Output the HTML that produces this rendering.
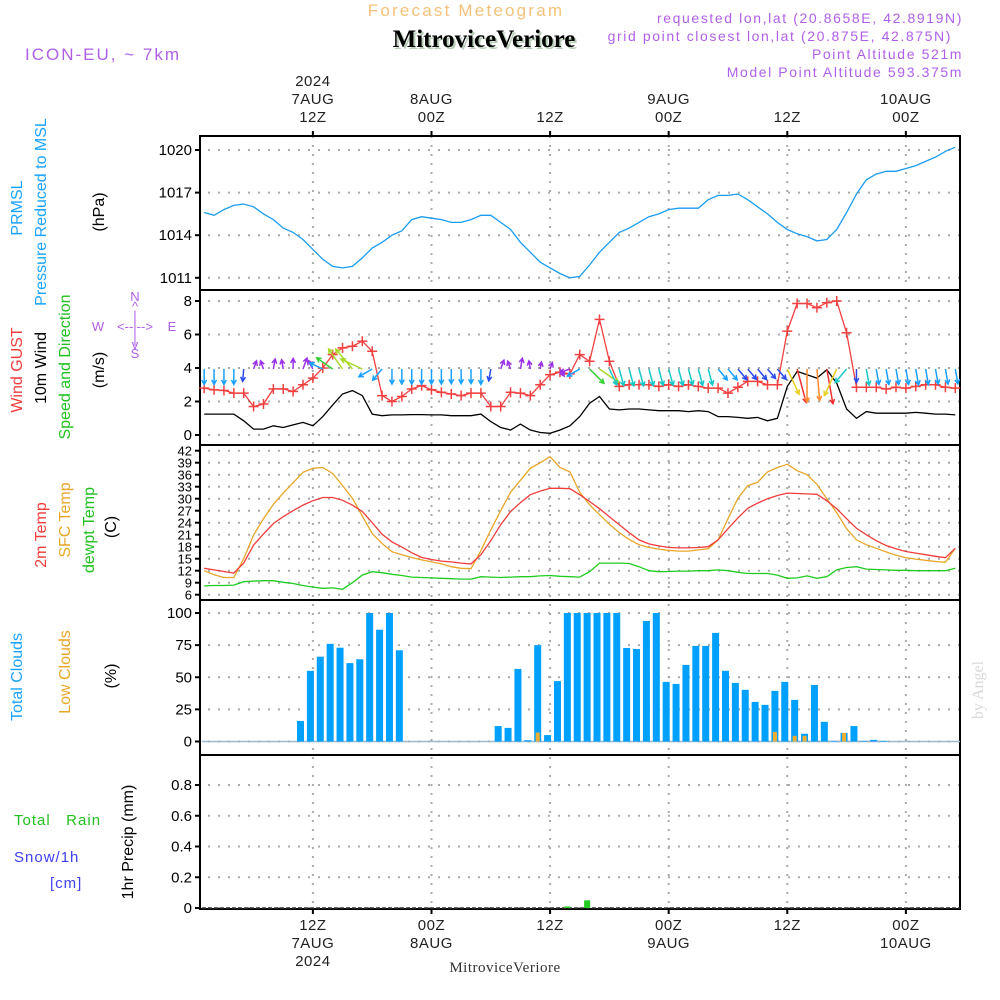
<!DOCTYPE html>
<html>
<head>
<meta charset="utf-8">
<style>
  html,body{margin:0;padding:0;background:#fff;}
  svg{display:block;font-family:"Liberation Sans",sans-serif;}
</style>
</head>
<body>
<svg id="chart" width="1000" height="1000" viewBox="0 0 1000 1000" xmlns="http://www.w3.org/2000/svg"></svg>
<script>
// ---------- DATA (hourly, hour index from 7AUG 00Z) ----------
const hours = [1,2,3,4,5,6,7,8,9,10,11,12,13,14,15,16,17,18,19,20,21,22,23,24,25,26,27,28,29,30,31,32,33,34,35,36,37,38,39,40,41,42,43,44,45,46,47,48,49,50,51,52,53,54,55,56,57,58,59,60,61,62,63,64,65,66,67,68,69,70,71,72,73,74,75,76,77];
const pressure = [1015.6,1015.4,1015.8,1016.1,1016.2,1016.0,1015.5,1015.1,1014.5,1014.2,1013.7,1013.0,1012.3,1011.8,1011.7,1011.8,1012.4,1013.1,1013.5,1014.0,1014.3,1015.1,1015.3,1015.2,1015.1,1014.9,1014.9,1015.1,1015.4,1015.4,1014.9,1014.4,1013.5,1012.8,1012.1,1011.7,1011.3,1011.0,1011.1,1011.9,1012.8,1013.5,1014.2,1014.5,1014.9,1015.3,1015.5,1015.8,1015.9,1015.9,1015.9,1016.5,1016.8,1016.8,1016.9,1016.5,1016.0,1015.5,1014.9,1014.4,1014.1,1013.9,1013.6,1013.7,1014.4,1015.6,1016.9,1017.9,1018.3,1018.5,1018.5,1018.7,1018.9,1019.2,1019.5,1019.9,1020.2];
const gust = [2.8,2.7,2.66,2.5,2.5,1.7,1.85,2.75,2.75,2.6,3.0,3.4,4.0,4.8,5.2,5.3,5.6,5.0,2.35,2.0,2.3,2.75,2.95,2.7,2.55,2.45,2.35,2.5,2.5,1.7,1.7,2.55,2.5,2.35,3.0,3.6,3.75,3.65,4.8,4.4,6.9,4.4,2.9,3.0,3.0,3.0,2.9,3.0,2.9,3.0,2.9,2.8,2.8,2.5,2.85,3.2,3.2,3.0,3.0,6.2,7.85,7.85,7.6,7.9,8.0,6.1,2.85,2.85,2.85,2.75,2.85,2.8,2.9,3.0,3.0,2.85,2.8];
const wind10 = [1.25,1.25,1.25,1.25,0.85,0.35,0.35,0.55,0.45,0.6,0.75,0.55,1.1,1.8,2.45,2.65,2.35,1.25,1.15,1.2,1.2,1.22,1.22,1.2,1.2,1.15,1.15,1.15,1.25,0.8,0.45,0.3,0.65,0.3,0.15,0.1,0.3,0.55,1.1,1.9,2.3,1.55,1.5,1.55,1.55,1.5,1.45,1.45,1.45,1.4,1.45,1.4,1.1,1.1,1.05,1.0,1.05,0.85,1.0,2.9,3.8,3.6,3.4,3.9,3.1,1.55,1.0,1.4,1.3,1.3,1.3,1.3,1.35,1.3,1.25,1.25,1.2];
const windDir = [0,0,0,0,5,200,160,190,170,180,200,150,115,125,145,140,115,60,40,0,0,0,0,0,0,0,0,0,0,10,200,160,190,170,190,200,330,70,60,315,305,335,345,345,345,345,345,345,345,345,345,345,320,320,320,320,320,320,320,335,345,0,355,350,25,40,0,350,350,350,350,350,350,350,350,350,350];
const temp2m = [12.6,12.2,11.8,11.4,13.9,18.4,21.2,23.8,25.5,27.0,28.4,29.5,30.3,30.3,29.6,28.4,26.8,24.0,21.1,19.2,17.9,16.5,15.3,14.8,14.4,14.2,13.9,13.7,16.0,19.5,23.5,26.8,29.0,31.0,31.9,32.6,32.6,32.5,31.0,29.3,27.5,25.5,23.5,21.5,19.7,18.7,18.2,17.8,17.7,17.7,17.8,18.0,19.7,22.5,25.2,27.6,28.9,30.0,30.8,31.4,31.3,31.2,31.1,29.5,27.5,25.0,22.6,21.0,19.5,18.3,17.5,16.8,16.4,16.0,15.6,15.25,17.6];
const tempSfc = [12.0,11.0,10.3,10.3,15.0,20.9,25.0,28.6,31.4,34.0,36.6,37.6,37.8,36.3,33.3,30.1,25.7,21.3,18.8,16.75,16.0,15.3,14.7,14.2,13.7,13.0,12.6,12.5,17.0,22.2,27.0,31.6,34.6,37.6,39.0,40.5,37.8,36.7,31.6,28.5,26.0,23.6,21.5,19.8,18.5,17.8,17.4,17.1,16.9,16.9,17.2,17.5,19.7,25.0,30.1,33.25,34.1,36.7,37.8,38.6,37.0,36.0,33.6,30.0,26.5,22.5,19.7,18.5,17.6,16.7,15.9,15.25,14.9,14.6,14.3,14.1,17.6];
const dewpt = [8.2,8.3,8.3,8.4,9.25,9.4,9.5,9.5,9.1,8.8,8.3,7.9,7.6,7.7,7.35,9.0,10.9,11.75,11.5,11.1,10.8,10.4,10.3,10.2,10.1,10.0,9.9,9.9,10.5,10.4,10.3,10.4,10.5,10.5,10.7,10.8,10.6,10.5,10.4,11.75,13.9,13.9,13.9,13.8,13.0,12.0,11.75,11.8,11.9,11.9,12.0,12.0,12.2,12.0,11.6,11.3,11.3,11.3,10.9,10.1,10.2,10.7,10.1,10.5,12.2,12.8,13.0,12.4,12.3,12.2,12.1,12.1,12.0,12.0,12.0,12.0,12.6];
const totalClouds = [0,0,0,0,0,0,0,0,0,0,16,55,66,76,73,61,64,100,87,100,71,0,0,0,0,0,0,0,0,0,12,10.6,56.5,1,75,5,47,100,100,100,100,100,100,72.8,72,93.8,100,46.4,44.8,59.6,74.4,74.4,84.5,55,45.6,40.2,30.8,28.5,39.4,46.4,32.4,6,44,15.3,0.5,6.7,12,0.5,1.3,0.5,0,0,0,0,0,0,0];
const lowCloudHours = [35,59,61,62,66];
const lowCloudValues = [7,7.5,4.4,4.4,6.7];
const rainHours = [38,40];
const rainValues = [0.01,0.05];
const pressTicks = [1011,1014,1017,1020];
const windTicks = [0,2,4,6,8];
const tempTicks = [6,9,12,15,18,21,24,27,30,33,36,39,42];
const cloudTicks = [0,25,50,75,100];
const rainTicks = [0,0.2,0.4,0.6,0.8];
const timeTickHours = [12,24,36,48,60,72];
const topTickLabels = [["2024","7AUG","12Z"],["","8AUG","00Z"],["","","12Z"],["","9AUG","00Z"],["","","12Z"],["","10AUG","00Z"]];
const bottomTickLabels = [["12Z","7AUG","2024"],["00Z","8AUG",""],["12Z","",""],["00Z","9AUG",""],["12Z","",""],["00Z","10AUG",""]];

// ---------- GEOMETRY ----------
const svg = document.getElementById('chart');
const NS = 'http://www.w3.org/2000/svg';
const X0 = 200, X1 = 960;
const xAt = h => 194.3 + 9.883 * h;
const panels = [
  {top:136, bot:290}, {top:290, bot:445}, {top:445, bot:600}, {top:600, bot:755}, {top:755, bot:909}
];
const yP = v => 150 + (1020 - v) * 14.2;
const yW = v => 435 - v * 16.75;
const yT = v => 594.7 - (v - 6) * 4.0;
const yC = v => 741.5 - v * 1.285;
const yR = v => 908 - v * 153.75;

function mk(tag, attrs, parent) {
  const e = document.createElementNS(NS, tag);
  for (const k in attrs) e.setAttribute(k, attrs[k]);
  (parent || svg).appendChild(e);
  return e;
}
function txt(s, attrs, parent) {
  const e = mk('text', attrs, parent);
  e.textContent = s;
  return e;
}
function vtxt(s, x, y, color, size, parent) {
  return txt(s, {x:0, y:0, transform:`translate(${x},${y}) rotate(-90)`, 'text-anchor':'middle', fill:color, 'font-size':size}, parent);
}

// ---------- GRIDS ----------
const grid = mk('g', {stroke:'#aaaaaa', 'stroke-width':2, 'stroke-dasharray':'2,8'});


function hgrid(yv) { mk('line', {x1:X0+8, x2:X1, y1:yv, y2:yv}, grid); }
pressTicks.forEach(v => hgrid(yP(v)));
windTicks.forEach(v => hgrid(yW(v)));
tempTicks.forEach(v => hgrid(yT(v)));
cloudTicks.forEach(v => hgrid(yC(v)));
rainTicks.forEach(v => hgrid(yR(v)));
const vgrid = mk('g', {stroke:'#aaaaaa', 'stroke-width':2, 'stroke-dasharray':'2,7'});


timeTickHours.forEach(h => mk('line', {x1:xAt(h), x2:xAt(h), y1:136, y2:909}, vgrid));

// ---------- PANEL FRAMES ----------
const frames = mk('g', {fill:'none', stroke:'#000', 'stroke-width':2});


mk('rect', {x:X0, y:136, width:X1-X0, height:773}, frames);
panels.forEach(p => mk('line', {x1:X0, x2:X1, y1:p.bot, y2:p.bot}, frames));
timeTickHours.forEach(h => {
  mk('line', {x1:xAt(h), x2:xAt(h), y1:131, y2:136}, frames);
  mk('line', {x1:xAt(h), x2:xAt(h), y1:909, y2:914}, frames);
});

// ---------- Y TICKS ----------
function yAxis(ticks, fn, name, fmt, size) {
  const g = mk('g', {});
  
  
  ticks.forEach(v => {
    mk('line', {x1:X0-5, x2:X0, y1:fn(v), y2:fn(v), stroke:'#000', 'stroke-width':2}, g);
    txt(fmt(v), {x:X0-8, y:fn(v)+5, 'text-anchor':'end', 'font-size':size, fill:'#000'}, g);
  });
}
yAxis(pressTicks, yP, 'pressure-y-axis', v => String(v), 15);
yAxis(windTicks, yW, 'wind-y-axis', v => String(v), 15);
yAxis(tempTicks, yT, 'temp-y-axis', v => String(v), 13);
yAxis(cloudTicks, yC, 'cloud-y-axis', v => String(v), 15);
yAxis(rainTicks, yR, 'rain-y-axis', v => v === 0 ? '0' : v.toFixed(1), 15);

// ---------- TIME LABELS ----------
const tl = mk('g', {'font-size':15, fill:'#222', 'text-anchor':'middle', 'letter-spacing':'0.5'});


timeTickHours.forEach((h, i) => {
  const top = topTickLabels[i];
  [86, 104, 122].forEach((yy, j) => { if (top[j]) txt(top[j], {x:xAt(h), y:yy}, tl); });
  const bot = bottomTickLabels[i];
  [930, 948, 966].forEach((yy, j) => { if (bot[j]) txt(bot[j], {x:xAt(h), y:yy}, tl); });
});

// ---------- PRESSURE ----------
const pPts = hours.map((h, i) => `${xAt(h).toFixed(1)},${yP(pressure[i]).toFixed(1)}`).join(' ');
const pLine = mk('polyline', {points:pPts, fill:'none', stroke:'#1a9cf0', 'stroke-width':1.3});



// ---------- WIND ----------
const wLine = mk('polyline', {points:hours.map((h, i) => `${xAt(h).toFixed(1)},${yW(wind10[i]).toFixed(1)}`).join(' '), fill:'none', stroke:'#000', 'stroke-width':1.3});


const gLine = mk('polyline', {points:hours.map((h, i) => `${xAt(h).toFixed(1)},${yW(gust[i]).toFixed(1)}`).join(' '), fill:'none', stroke:'#f04040', 'stroke-width':1.3});


const gMarks = mk('g', {stroke:'#f04040', 'stroke-width':1.5});


hours.forEach((h, i) => {
  const x = xAt(h), y = yW(gust[i]);
  mk('line', {x1:x-5, x2:x+5, y1:y, y2:y}, gMarks);
  mk('line', {x1:x, x2:x, y1:y-5, y2:y+5}, gMarks);
});
function windColor(s) {
  if (s < 0.8) return '#9a30e8';
  if (s < 1.1) return '#2a4af0';
  if (s < 1.4) return '#1aa0ff';
  if (s < 1.7) return '#18c8c8';
  if (s < 2.1) return '#30d030';
  if (s < 2.7) return '#a8d828';
  if (s < 3.2) return '#e8d020';
  if (s < 3.7) return '#ff8a30';
  return '#f03030';
}
const arrows = mk('g', {'stroke-width':1.5, fill:'none'});


hours.forEach((h, i) => {
  const s = wind10[i];
  const L = 6 + 7.5 * s;
  const th = (windDir[i] + 180) * Math.PI / 180;
  const dx = Math.sin(th), dy = -Math.cos(th);
  const x0 = xAt(h), y0 = 369;
  const x1 = x0 + dx * L, y1 = y0 + dy * L;
  const c = windColor(s);
  const hl = 5, a = 0.5;
  const bx = -dx, by = -dy;
  const lx = x1 + hl * (bx * Math.cos(a) - by * Math.sin(a));
  const ly = y1 + hl * (bx * Math.sin(a) + by * Math.cos(a));
  const rx = x1 + hl * (bx * Math.cos(-a) - by * Math.sin(-a));
  const ry = y1 + hl * (bx * Math.sin(-a) + by * Math.cos(-a));
  mk('path', {d:`M${x0},${y0} L${x1},${y1} M${lx},${ly} L${x1},${y1} L${rx},${ry}`, stroke:c}, arrows);
});

// ---------- TEMPERATURE ----------
function tline(arr, color) {
  return mk('polyline', {points:hours.map((h, i) => `${xAt(h).toFixed(1)},${yT(arr[i]).toFixed(1)}`).join(' '), fill:'none', stroke:color, 'stroke-width':1.3});
}
const sfcL = tline(tempSfc, '#e8a628');


const t2L = tline(temp2m, '#f03c3c');


const dwL = tline(dewpt, '#20cc20');



// ---------- CLOUDS ----------
const cbase = mk('line', {x1:X0+2, x2:X1, y1:741.5, y2:741.5, stroke:'#9ab8d0', 'stroke-width':1.5});


const cb = mk('g', {fill:'#00a0ff'});


hours.forEach((h, i) => {
  const v = totalClouds[i];
  if (v <= 0) return;
  const y = yC(v);
  const r = mk('rect', {x:xAt(h)-2.5-3.5, y:y, width:7, height:741.5-y}, cb);
  
  
});
const lb = mk('g', {fill:'#f0ae30'});


lowCloudHours.forEach((h, i) => {
  const y = yC(lowCloudValues[i]);
  mk('rect', {x:xAt(h)-2.5-2, y:y, width:4, height:741.5-y}, lb);
});

// ---------- PRECIP ----------
const rbase = mk('line', {x1:X0+2, x2:X1, y1:908, y2:908, stroke:'#333', 'stroke-width':1.5, 'stroke-dasharray':'4,2'});


const rb = mk('g', {fill:'#22cc22'});


rainHours.forEach((h, i) => {
  const y = yR(rainValues[i]);
  mk('rect', {x:xAt(h)-2.5-3, y:y, width:6, height:908-y}, rb);
});

// ---------- LABELS ----------
const lab = mk('g', {});


vtxt('PRMSL', 22, 208, '#1aa3ff', 16, lab);
vtxt('Pressure Reduced to MSL', 46, 212, '#1aa3ff', 16, lab);
vtxt('(hPa)', 104, 212, '#000', 16, lab);
vtxt('Wind GUST', 22, 370, '#f03c3c', 16, lab);
vtxt('10m Wind', 46, 368, '#000', 16, lab);
vtxt('Speed and Direction', 70, 367, '#20c020', 16, lab);
vtxt('(m/s)', 104, 370, '#000', 16, lab);
vtxt('2m Temp', 46, 535, '#f03c3c', 16, lab);
vtxt('SFC Temp', 70, 520, '#e8a628', 16, lab);
vtxt('dewpt Temp', 94, 530, '#20c020', 16, lab);
vtxt('(C)', 116, 527, '#000', 16, lab);
vtxt('Total Clouds', 22, 677, '#1aa3ff', 16, lab);
vtxt('Low Clouds', 70, 672, '#e8a628', 16, lab);
vtxt('(%)', 116, 676, '#000', 16, lab);
vtxt('1hr Precip (mm)', 133, 842, '#000', 16, lab);
txt('Total   Rain', {x:14, y:825, fill:'#20c020', 'font-size':15, 'letter-spacing':'1', 'xml:space':'preserve', style:'white-space:pre'}, lab);
txt('Snow/1h', {x:14, y:862, fill:'#4040f0', 'font-size':15, 'letter-spacing':'1'}, lab);
txt('[cm]', {x:50, y:888, fill:'#4040f0', 'font-size':15, 'letter-spacing':'1'}, lab);

// compass
const cp = mk('g', {fill:'#b060e8', 'font-size':13, 'text-anchor':'middle'});


txt('N', {x:135, y:301}, cp);
txt('^', {x:135, y:311}, cp);
txt('|', {x:135, y:320}, cp);
txt('W', {x:98, y:331}, cp);
txt('<--|-->', {x:135, y:331}, cp);
txt('E', {x:172, y:331}, cp);
txt('|', {x:135, y:343}, cp);
txt('v', {x:135, y:349}, cp);
txt('S', {x:135, y:358}, cp);

// header
const hd = mk('g', {});


txt('Forecast Meteogram', {x:466, y:16, 'text-anchor':'middle', fill:'#f2c27a', 'font-size':17, 'letter-spacing':'2.2'}, hd);
txt('MitroviceVeriore', {x:486, y:49, 'text-anchor':'middle', fill:'#b8ccb8', 'font-size':25, 'font-weight':'bold', 'font-family':'Liberation Serif, serif'}, hd);
txt('MitroviceVeriore', {x:484, y:47, 'text-anchor':'middle', fill:'#000', 'font-size':25, 'font-weight':'bold', 'font-family':'Liberation Serif, serif'}, hd);
txt('ICON-EU, ~ 7km', {x:25, y:60, fill:'#b060e8', 'font-size':17, 'letter-spacing':'2'}, hd);
const rt = mk('g', {fill:'#b060e8', 'font-size':14, 'text-anchor':'end', 'letter-spacing':'1.6'}, hd);
txt('requested lon,lat (20.8658E, 42.8919N)', {x:963, y:23}, rt);
txt('grid point closest lon,lat (20.875E, 42.875N)', {x:952, y:41}, rt);
txt('Point Altitude 521m', {x:963, y:59}, rt);
txt('Model Point Altitude 593.375m', {x:963, y:77}, rt);
txt('MitroviceVeriore', {x:505, y:972, 'text-anchor':'middle', fill:'#333', 'font-size':15, 'font-family':'Liberation Serif, serif', 'letter-spacing':'0.5'}, hd);
const ang = txt('by Angel', {x:0, y:0, transform:'translate(983,690) rotate(-90)', 'text-anchor':'middle', fill:'#d8d8d8', 'font-size':16, 'font-family':'Liberation Serif, serif'}, hd);


</script>
</body>
</html>
